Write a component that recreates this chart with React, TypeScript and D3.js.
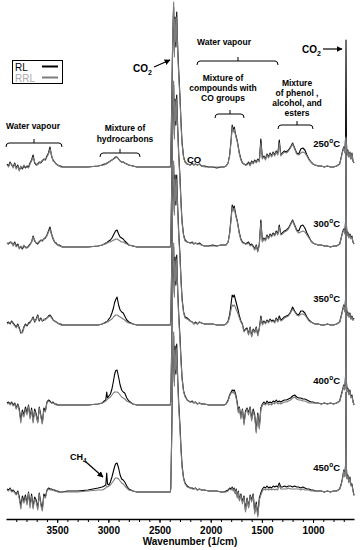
import React, { useEffect, useRef } from 'react';
import * as d3 from 'd3';

// shared wavenumber grid (1/cm), high to low
const wavenumbers = [
  3990, 3975, 3960, 3945, 3930, 3915, 3900, 3885, 3870, 3855, 3840, 3825, 3810, 3795, 3780, 3765, 3750, 3735, 3720, 3705,
  3690, 3675, 3660, 3645, 3630, 3615, 3600, 3585, 3570, 3555, 3540, 3525, 3510, 3495, 3480, 3465, 3450,
  3400, 3300, 3200, 3100,
  3060, 3040, 3025, 3016, 3008, 2995, 2980, 2965, 2950, 2940, 2930, 2915, 2900, 2885, 2870, 2855, 2840, 2820, 2800, 2760, 2720, 2680,
  2600, 2500, 2420, 2395,
  2390, 2380, 2370, 2362, 2355, 2348, 2340, 2332, 2322, 2312, 2300, 2290, 2280, 2265, 2250,
  2230, 2200, 2180, 2165, 2150, 2130, 2110, 2090, 2060, 2020, 1980, 1940, 1900, 1870,
  1850, 1830, 1815, 1800, 1790, 1780, 1770, 1760, 1750, 1740, 1730, 1720, 1705, 1690, 1675, 1660,
  1645, 1630, 1615, 1600, 1585, 1570, 1555, 1540, 1525, 1510, 1495, 1480, 1465, 1450, 1435, 1420, 1405, 1390, 1375, 1360, 1345, 1330, 1315,
  1300, 1280, 1260, 1240, 1220, 1200, 1180, 1160, 1140, 1120, 1100, 1080, 1060, 1040, 1020, 1000,
  980, 950, 920, 890, 860, 830, 800, 770, 755,
  740, 725, 712, 700, 690, 682, 678, 674, 668, 660, 650, 640, 630, 620, 610, 600,
];

// stacked offsets of each temperature (a.u.)
const temperatures = ['250', '300', '350', '400', '450'];
const offsets = [352, 272, 194, 114, 27];

// absorbance above each offset (a.u.)
const rl250 = [
  3, 1, 5, 2, 0, 4, -1, 2, -3, 0, -2, 1, -1, 1, 0, 4, 7, 12, 4, 2, 3, 5, 4, 6, 8, 7, 11, 14, 20, 11, 7, 5, 3, 2, 1, 1, 0,
  0, 0, 0, 1,
  2, 3, 3, 4, 4, 5, 6, 7, 8, 9, 10, 10, 8, 6, 5, 5, 4, 3, 2, 1, 0, 0,
  0, 0, 0, 0,
  5, 70, 135, 160, 115, 150, 120, 155, 118, 95, 70, 45, 25, 10, 5,
  3, 2, 4, 2, 3, 2, 3, 1, 1, 0, 0, -1, 0, 0,
  1, 4, 12, 28, 42, 36, 40, 34, 30, 26, 20, 14, 8, 4, 3, 2,
  3, 5, 2, 6, 4, 7, 5, 8, 6, 28, 9, 11, 8, 13, 10, 14, 11, 15, 12, 16, 13, 27, 12,
  14, 16, 15, 17, 20, 24, 19, 14, 13, 18, 19, 17, 12, 8, 5, 3,
  2, 1, 1, 0, 1, 0, 0, 1, 2,
  3, 10, 16, 20, 15, 30, 127, 25, 12, 17, 10, 15, 8, 14, 6, 4,
];
const rrl250 = [
  2, 0, 4, 3, -1, 3, -2, 1, -4, 1, -1, 2, 0, 0, -1, 3, 6, 10, 5, 3, 2, 4, 5, 7, 7, 8, 10, 13, 18, 12, 6, 5, 3, 2, 1, 0, 0,
  0, 0, 0, 1,
  2, 2, 3, 3, 4, 5, 6, 7, 8, 9, 9, 10, 8, 6, 5, 5, 4, 3, 2, 1, 0, 0,
  0, 0, 0, 0,
  4, 65, 140, 165, 110, 148, 125, 150, 115, 90, 68, 42, 23, 9, 5,
  3, 2, 3, 2, 3, 2, 3, 1, 0, 0, 0, 0, 0, 0,
  1, 4, 11, 26, 40, 35, 38, 33, 29, 25, 19, 13, 7, 4, 3, 2,
  2, 4, 1, 5, 3, 6, 4, 7, 5, 24, 8, 10, 7, 12, 9, 13, 10, 14, 11, 15, 12, 24, 11,
  13, 15, 14, 16, 19, 23, 18, 13, 12, 14, 15, 14, 11, 7, 5, 3,
  2, 1, 1, 0, 1, 0, 0, 1, 2,
  3, 9, 15, 19, 14, 28, 30, 22, 11, 16, 10, 14, 8, 13, 6, 4,
];
const rl300 = [
  4, 3, 5, 4, 2, 5, 1, 3, -1, 0, -2, 1, 0, -1, 1, 3, 5, 11, 6, 4, 3, 5, 7, 6, 8, 9, 12, 16, 20, 13, 8, 5, 4, 2, 2, 1, 0,
  0, 0, 0, 1,
  2, 3, 4, 4, 5, 6, 7, 9, 12, 14, 16, 17, 13, 10, 9, 8, 6, 4, 2, 1, 0, 0,
  0, 0, 0, 0,
  5, 68, 138, 162, 112, 148, 122, 152, 118, 92, 70, 45, 26, 12, 7,
  5, 4, 5, 3, 4, 3, 4, 2, 1, 1, 2, 1, 2, 2,
  2, 5, 14, 30, 42, 38, 41, 35, 30, 26, 20, 14, 8, 5, 4, 3,
  4, 5, 2, 3, 1, -2, 2, -4, 3, 27, 6, 9, 7, 12, 9, 13, 11, 14, 12, 16, 13, 22, 13,
  14, 16, 17, 19, 23, 27, 22, 17, 16, 21, 22, 19, 14, 10, 6, 4,
  3, 2, 2, 1, 1, 0, 1, 1, 2,
  3, 9, 15, 18, 14, 26, 95, 22, 12, 15, 10, 13, 9, 11, 5, 3,
];
const rrl300 = [
  3, 4, 4, 5, 1, 4, 0, 2, -2, 1, -1, 2, -1, 0, 0, 2, 5, 10, 7, 4, 4, 6, 6, 7, 8, 10, 11, 15, 18, 12, 9, 5, 3, 2, 1, 1, 0,
  0, 0, 0, 1,
  2, 3, 3, 4, 4, 5, 5, 6, 7, 7, 8, 8, 7, 6, 5, 5, 4, 3, 2, 1, 0, 0,
  0, 0, 0, 0,
  4, 64, 142, 166, 108, 146, 126, 148, 114, 90, 66, 42, 24, 11, 6,
  5, 4, 4, 3, 4, 3, 3, 2, 1, 1, 1, 1, 2, 2,
  2, 5, 13, 28, 40, 36, 39, 33, 29, 25, 19, 13, 7, 4, 4, 3,
  3, 4, 1, 2, 0, -3, 1, -5, 2, 24, 5, 8, 6, 11, 8, 12, 10, 13, 11, 15, 12, 20, 12,
  13, 15, 16, 18, 22, 26, 21, 16, 14, 15, 16, 15, 12, 9, 6, 4,
  3, 2, 2, 1, 1, 0, 1, 1, 2,
  3, 9, 14, 17, 13, 25, 92, 21, 11, 14, 9, 12, 8, 10, 5, 3,
];
const rl350 = [
  2, 3, 1, 4, 2, 0, -2, 1, -3, -8, -7, -2, 1, -1, 2, 3, 5, 8, 3, 6, 10, 4, 7, 4, 5, 6, 7, 9, 10, 8, 5, 4, 3, 2, 1, 1, 0,
  0, 0, 0, 0,
  1, 2, 3, 3, 4, 6, 8, 12, 17, 22, 25, 28, 20, 15, 13, 12, 9, 5, 3, 1, 0, 0,
  0, 0, 0, 0,
  5, 66, 136, 160, 114, 150, 120, 150, 116, 92, 70, 46, 27, 13, 8,
  7, 4, 3, 1, 3, 1, 3, 2, 1, 1, 1, 0, 0, 0,
  1, 4, 10, 22, 30, 28, 30, 26, 22, 18, 14, 9, 4, 1, -6, -4,
  -3, -9, -2, -11, -4, -7, -2, -10, -3, 9, 1, 4, 2, 5, 3, 6, 4, 5, 3, 7, 4, 9, 5,
  6, 8, 9, 10, 13, 18, 14, 11, 10, 14, 14, 12, 8, 5, 3, 2,
  1, 1, 0, 0, 1, 0, 0, 1, 2,
  3, 9, 15, 20, 14, 27, 98, 20, 10, 13, 8, 12, 6, 9, 5, 7,
];
const rrl350 = [
  1, 2, 2, 3, 1, -1, -3, 0, -4, -7, -8, -3, 0, 0, 1, 2, 5, 7, 4, 5, 9, 5, 6, 4, 6, 5, 7, 8, 9, 7, 5, 4, 3, 2, 1, 0, 0,
  0, 0, 0, 0,
  1, 2, 2, 3, 3, 4, 5, 6, 8, 9, 10, 10, 9, 8, 7, 6, 5, 3, 2, 1, 0, 0,
  0, 0, 0, 0,
  4, 62, 140, 164, 110, 146, 124, 146, 112, 88, 66, 43, 25, 12, 7,
  6, 4, 3, 1, 2, 1, 3, 2, 1, 1, 1, 0, 0, 0,
  1, 3, 8, 16, 20, 19, 20, 18, 15, 13, 10, 7, 3, 0, -7, -5,
  -4, -10, -3, -12, -5, -8, -3, -11, -4, 7, 0, 3, 1, 4, 2, 5, 3, 4, 2, 6, 3, 7, 4,
  5, 7, 8, 9, 12, 16, 13, 10, 9, 11, 11, 10, 7, 4, 3, 2,
  1, 1, 0, 0, 1, 0, 0, 1, 2,
  3, 8, 14, 19, 13, 25, 95, 19, 9, 12, 8, 11, 6, 8, 5, 6,
];
const rl400 = [
  2, 3, 1, 3, 0, 2, -3, 1, -4, -15, -5, -10, -2, -8, 0, -12, -3, -16, -4, -9, -17, -2, -10, -18, -3, -6, 3, 5, 4, 2, 3, 1, 1, 0, 0, 0, 0,
  0, 0, 0, 1,
  2, 4, 5, 13, 7, 9, 11, 16, 24, 30, 34, 35, 28, 20, 15, 13, 12, 7, 4, 1, 0, 0,
  0, 0, 0, 0,
  5, 66, 134, 158, 112, 148, 120, 150, 114, 90, 68, 46, 28, 14, 9,
  5, 3, 4, 2, 3, 1, 2, 1, 1, 0, 0, 0, 0, 0,
  1, 5, 10, 13, 15, 14, 15, 12, 8, 2, -6, -2, -12, -4, -18, -6,
  -3, -8, -2, -14, -4, -10, -26, -8, -22, -3, 1, 3, 1, 4, 2, 3, 2, 4, 3, 5, 3, 4, 3,
  4, 5, 5, 6, 7, 9, 10, 8, 7, 7, 6, 6, 5, 4, 3, 3,
  2, 2, 1, 2, 1, 2, 1, 2, 3,
  4, 10, 15, 20, 16, 30, 95, 24, 14, 17, 11, 15, 8, 10, 4, 0,
];
const rrl400 = [
  1, 2, 0, 2, -1, 1, -4, 0, -6, -18, -7, -12, -4, -10, -1, -14, -5, -18, -6, -11, -18, -3, -12, -19, -5, -7, 2, 4, 3, 2, 2, 1, 0, 0, 0, 0, 0,
  0, 0, 0, 1,
  2, 3, 4, 5, 6, 7, 8, 10, 12, 13, 13, 13, 12, 10, 8, 7, 6, 4, 3, 1, 0, 0,
  0, 0, 0, 0,
  4, 62, 138, 162, 108, 144, 124, 146, 110, 86, 64, 43, 26, 13, 8,
  5, 3, 3, 2, 3, 1, 2, 1, 1, 0, 0, 0, 0, 0,
  1, 4, 9, 12, 13, 12, 13, 10, 6, 0, -8, -3, -14, -5, -20, -8,
  -4, -10, -3, -16, -6, -12, -28, -10, -24, -5, 0, 1, 0, 2, 0, 1, 0, 2, 1, 3, 1, 2, 1,
  2, 3, 3, 4, 5, 7, 8, 6, 5, 5, 4, 4, 3, 2, 2, 2,
  2, 2, 1, 2, 1, 2, 1, 2, 3,
  4, 9, 14, 19, 15, 28, 92, 22, 13, 16, 10, 14, 7, 9, 3, 0,
];
const rl450 = [
  3, 2, 4, 1, 2, 0, -2, 1, -5, -14, -4, -9, -3, -11, 0, -13, -2, -15, -5, -8, -16, -1, -11, -17, -2, -5, 2, 4, 3, 3, 2, 2, 1, 1, 0, 0, 0,
  1, 1, 2, 4,
  5, 6, 7, 19, 8, 7, 10, 15, 21, 25, 28, 29, 24, 17, 13, 12, 10, 6, 3, 1, 0, 0,
  0, 0, 0, 0,
  4, 64, 132, 156, 110, 146, 118, 148, 112, 88, 66, 44, 27, 14, 9,
  6, 4, 4, 3, 4, 2, 3, 2, 2, 1, 1, 1, 0, 0,
  1, 2, 4, 3, 5, 2, 4, -1, 3, -5, 1, -8, -2, -10, -4, -18,
  -6, -15, -3, -8, -2, -20, -10, -23, -6, -1, 3, 5, 4, 6, 4, 5, 4, 6, 5, 6, 5, 9, 5,
  5, 6, 5, 6, 6, 5, 6, 5, 5, 4, 5, 4, 3, 3, 2, 2,
  1, 1, 1, 0, 1, 0, 1, 1, 2,
  3, 8, 14, 22, 16, 28, 100, 24, 14, 17, 10, 15, 7, 8, 2, -3,
];
const rrl450 = [
  2, 1, 3, 0, 1, -1, -3, 0, -7, -17, -6, -11, -5, -13, -1, -16, -4, -17, -7, -10, -18, -2, -13, -19, -4, -6, 1, 3, 2, 2, 2, 1, 1, 0, 0, 0, 0,
  0, 0, 1, 2,
  2, 3, 4, 6, 5, 6, 7, 9, 11, 13, 14, 14, 13, 11, 9, 8, 6, 4, 2, 1, 0, 0,
  0, 0, 0, 0,
  3, 60, 136, 160, 106, 142, 122, 144, 108, 84, 62, 41, 25, 13, 8,
  5, 4, 3, 3, 4, 2, 3, 2, 2, 1, 1, 1, 0, 0,
  0, 1, 3, 2, 4, 1, 3, -2, 2, -6, 0, -9, -3, -12, -5, -20,
  -7, -16, -4, -10, -3, -22, -12, -25, -8, -3, 1, 3, 2, 3, 2, 3, 2, 3, 2, 3, 2, 7, 3,
  3, 3, 3, 4, 3, 3, 3, 3, 3, 2, 3, 2, 2, 2, 1, 1,
  1, 1, 1, 0, 1, 0, 1, 1, 2,
  3, 7, 13, 21, 15, 26, 98, 22, 13, 16, 9, 14, 6, 7, 1, -4,
];

const majorTicks = [3500, 3000, 2500, 2000, 1500, 1000];

const RL_COLOR = '#000000';
const RRL_COLOR = '#7c7c7c';
const FONT = '"Liberation Sans", Arial, Helvetica, sans-serif';

export default function App() {
  const ref = useRef<SVGSVGElement>(null);

  useEffect(() => {
    const svg = d3.select(ref.current);
    svg.selectAll('*').remove();

    const x = d3.scaleLinear().domain([4000, 600]).range([6, 354]);
    const y = d3.scaleLinear().domain([0, 520]).range([519, -1]);

    const defs = svg.append('defs');
    defs.append('marker')
      .attr('id', 'arrow')
      .attr('viewBox', '0 0 10 10')
      .attr('refX', 9).attr('refY', 5)
      .attr('markerWidth', 5).attr('markerHeight', 5)
      .attr('orient', 'auto')
      .append('path').attr('d', 'M0,0 L10,5 L0,10 z').attr('fill', '#000');

    const spectra = temperatures.map((t, i) => ({
      t,
      offset: offsets[i],
      rl: [rl250, rl300, rl350, rl400, rl450][i],
      rrl: [rrl250, rrl300, rrl350, rrl400, rrl450][i],
    }));

    const plot = svg.append('g');
    spectra.slice().reverse().forEach((s) => {
      const line = d3.line<number>()
        .x((d, i) => x(wavenumbers[i]))
        .y((d) => y(s.offset + d));
      plot.append('path').attr('d', line(s.rl)).attr('fill', 'none')
        .attr('stroke', RL_COLOR).attr('stroke-width', 1.1).attr('stroke-linejoin', 'round');
      plot.append('path').attr('d', line(s.rrl)).attr('fill', 'none')
        .attr('stroke', RRL_COLOR).attr('stroke-width', 1.1).attr('stroke-linejoin', 'round');
    });

    // x axis
    const axisG = svg.append('g').attr('transform', `translate(0,${y(0)})`);
    axisG.append('g')
      .call(d3.axisBottom(x).tickValues(d3.range(3900, 600, -100)).tickSize(3).tickSizeOuter(0).tickFormat(() => ''))
      .call((g) => g.select('.domain').remove());
    axisG.append('g')
      .call(d3.axisBottom(x).tickValues(majorTicks).tickSize(4).tickSizeOuter(0).tickPadding(4).tickFormat(d3.format('d')))
      .call((g) => g.select('.domain').attr('stroke-width', 1.5))
      .call((g) => g.selectAll('text').attr('font-family', FONT).attr('font-weight', 'bold').attr('font-size', 10).attr('fill', '#000'));
    axisG.selectAll('line').attr('stroke', '#000');

    svg.append('text').attr('x', 190).attr('y', 545).attr('text-anchor', 'middle')
      .attr('font-family', FONT).attr('font-weight', 'bold').attr('font-size', 10)
      .text('Wavenumber (1/cm)');

    // temperature labels
    const tempY = [147, 227, 302, 384, 471];
    spectra.forEach((s, i) => {
      const tx = svg.append('text').attr('x', 340).attr('y', tempY[i]).attr('text-anchor', 'end')
        .attr('font-family', FONT).attr('font-weight', 'bold').attr('font-size', 9.5);
      tx.append('tspan').text(s.t);
      tx.append('tspan').attr('font-size', 6.5).attr('dy', -4).text('o');
      tx.append('tspan').attr('dy', 4).text('C');
    });

    // annotations
    const ann = svg.append('g').attr('font-family', FONT).attr('font-weight', 'bold').attr('font-size', 8.5);
    const label = (cx: number, lines: string[], y0: number, step: number) => {
      lines.forEach((l, i) => {
        ann.append('text').attr('x', cx).attr('y', y0 + i * step).attr('text-anchor', 'middle').text(l);
      });
    };
    const bracket = (x1: number, x2: number, xc: number, yb: number) => {
      const p = `M${x1},${yb + 4} Q${x1},${yb} ${x1 + 3},${yb} L${x2 - 3},${yb} Q${x2},${yb} ${x2},${yb + 4} M${xc},${yb} L${xc},${yb - 4}`;
      ann.append('path').attr('d', p).attr('fill', 'none').attr('stroke', '#000').attr('stroke-width', 1);
    };

    label(33, ['Water vapour'], 129, 10);
    bracket(6, 62, 34, 143);
    label(125, ['Mixture of', 'hydrocarbons'], 131, 10.5);
    bracket(100, 140, 120, 153);
    label(224, ['Water vapour'], 45, 10);
    bracket(197, 278, 238, 61);
    label(223, ['Mixture of', 'compounds with', 'CO groups'], 81, 10);
    bracket(215, 244, 230, 114);
    label(297, ['Mixture', 'of phenol ,', 'alcohol, and', 'esters'], 86, 10);
    bracket(278, 313, 297, 125);

    const chem = (tx: number, ty: number, main: string, sub: string, size: number) => {
      const t = svg.append('text').attr('x', tx).attr('y', ty)
        .attr('font-family', FONT).attr('font-weight', 'bold').attr('font-size', size);
      t.append('tspan').text(main);
      if (sub) t.append('tspan').attr('font-size', size * 0.7).attr('dy', 3).text(sub);
    };
    chem(133, 72, 'CO', '2', 10);
    svg.append('line').attr('x1', 154).attr('y1', 67).attr('x2', 170).attr('y2', 60)
      .attr('stroke', '#000').attr('stroke-width', 1.2).attr('marker-end', 'url(#arrow)');
    chem(302, 53, 'CO', '2', 10);
    svg.append('line').attr('x1', 323).attr('y1', 49).attr('x2', 342).attr('y2', 49)
      .attr('stroke', '#000').attr('stroke-width', 1.2).attr('marker-end', 'url(#arrow)');
    chem(187, 163, 'CO', '', 9.5);
    chem(70, 460, 'CH', '4', 9);
    svg.append('line').attr('x1', 86).attr('y1', 462).attr('x2', 103).attr('y2', 477)
      .attr('stroke', '#000').attr('stroke-width', 1.2).attr('marker-end', 'url(#arrow)');

    // legend
    const lg = svg.append('g').attr('font-family', FONT).attr('font-size', 10);
    lg.append('rect').attr('x', 12.5).attr('y', 60.5).attr('width', 50).attr('height', 23)
      .attr('fill', '#fff').attr('stroke', '#000').attr('stroke-width', 1);
    lg.append('text').attr('x', 15).attr('y', 71).attr('fill', RL_COLOR).text('RL');
    lg.append('text').attr('x', 15).attr('y', 82).attr('fill', '#aaaaaa').text('RRL');
    lg.append('line').attr('x1', 42).attr('x2', 58).attr('y1', 66.5).attr('y2', 66.5)
      .attr('stroke', RL_COLOR).attr('stroke-width', 2);
    lg.append('line').attr('x1', 42).attr('x2', 58).attr('y1', 77.5).attr('y2', 77.5)
      .attr('stroke', RRL_COLOR).attr('stroke-width', 2);
  }, []);

  return (
    <svg
      ref={ref}
      width={360}
      height={550}
      style={{ position: 'absolute', left: 0, top: 0, background: '#fff' }}
    />
  );
}
